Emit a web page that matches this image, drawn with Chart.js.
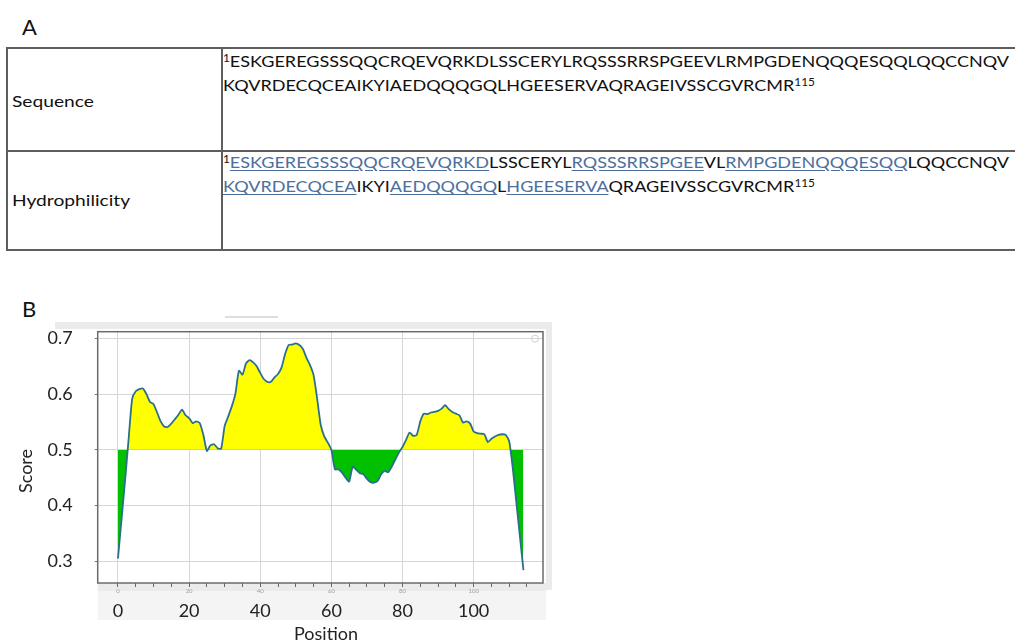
<!DOCTYPE html>
<html>
<head>
<meta charset="utf-8">
<title>Hydrophilicity profile</title>
<script src="https://cdn.jsdelivr.net/npm/chart.js@4.4.1/dist/chart.umd.min.js"></script>
<style>
  html, body { margin: 0; padding: 0; background: #fff; }
  body {
    width: 1015px; height: 642px; overflow: hidden; position: relative;
    font-family: Lato, 'Open Sans', sans-serif; color: #111;
  }
  .panel-label { position: absolute; font-size: 22px; line-height: 22px; color: #111; }
  .rule { position: absolute; background: #5e5e5e; }
  .row-name {
    position: absolute; left: 12px; font-size: 16px; line-height: 24px;
    transform: scaleX(1.2); transform-origin: 0 50%;
  }
  .seq { position: absolute; left: 223px; font-size: 16px; line-height: 24px; white-space: nowrap; transform-origin: 0 50%; }
  .hl { color: #4d6f9e; text-decoration: underline; text-underline-offset: 2px; }
  sup { font-size: 10.5px; line-height: 0; vertical-align: 5px; }
  #chartBox { position: absolute; left: 0; top: 290px; width: 560px; height: 352px; }
  .axis-title { position: absolute; color: #222; white-space: nowrap; transform: translate(-50%, -50%); }
  #tab { position: absolute; left: 225px; top: 316px; width: 53px; height: 2px; background: #dedede; }
</style>
</head>
<body>

<div class="panel-label" style="left: 22px; top: 16px;">A</div>

<div class="rule" style="left: 6px; top: 47px; width: 1009px; height: 2px;"></div>
<div class="rule" style="left: 6px; top: 149.5px; width: 1009px; height: 2px;"></div>
<div class="rule" style="left: 6px; top: 248.5px; width: 1009px; height: 2px;"></div>
<div class="rule" style="left: 6px; top: 47px; width: 2px; height: 203.5px;"></div>
<div class="rule" style="left: 221px; top: 47px; width: 2px; height: 203.5px;"></div>

<div class="row-name" style="top: 89px;">Sequence</div>
<div class="row-name" style="top: 188px;">Hydrophilicity</div>

<div class="seq" id="seqLine1" style="top: 49px;"></div>
<div class="seq" id="seqLine2" style="top: 72.5px;"></div>
<div class="seq" id="hydLine1" style="top: 149.5px;"></div>
<div class="seq" id="hydLine2" style="top: 174px;"></div>

<div class="panel-label" style="left: 22px; top: 298px;">B</div>
<div id="tab"></div>

<div id="chartBox"><canvas id="scoreChart"></canvas></div>

<div class="axis-title" style="left: 24.5px; top: 470.5px; font-size: 18px; transform: translate(-50%, -50%) rotate(-90deg);">Score</div>
<div class="axis-title" style="left: 326px; top: 633px; font-size: 18px;">Position</div>

<script>
const SEQUENCE = 'ESKGEREGSSSQQCRQEVQRKDLSSCERYLRQSSSRRSPGEEVLRMPGDENQQQESQQLQQCCNQV' +
  'KQVRDECQCEAIKYIAEDQQQGQLHGEESERVAQRAGEIVSSCGVRCMR';
const LINE_BREAK = 66;
// hydrophilic stretches, 1-based residue numbers, inclusive
const HYDROPHILIC_SEGMENTS = [[1, 22], [31, 42], [45, 58], [67, 77], [82, 89], [91, 99]];

const START_POSITION = 0;
const SCORES = [
  0.305, 0.375, 0.445, 0.520, 0.592, 0.605, 0.609, 0.610, 0.600, 0.586,
  0.582, 0.567, 0.551, 0.542, 0.541, 0.547, 0.555, 0.563, 0.572, 0.562,
  0.557, 0.548, 0.551, 0.548, 0.527, 0.498, 0.508, 0.510, 0.503, 0.502,
  0.543, 0.560, 0.578, 0.600, 0.642, 0.635, 0.655, 0.661, 0.657, 0.650,
  0.638, 0.627, 0.622, 0.622, 0.630, 0.636, 0.648, 0.672, 0.688, 0.689,
  0.691, 0.688, 0.681, 0.665, 0.652, 0.634, 0.592, 0.545, 0.524, 0.513,
  0.500, 0.465, 0.465, 0.459, 0.450, 0.443, 0.470, 0.464, 0.458, 0.456,
  0.448, 0.442, 0.441, 0.444, 0.456, 0.462, 0.460, 0.470, 0.483, 0.495,
  0.505, 0.518, 0.531, 0.525, 0.527, 0.551, 0.565, 0.564, 0.567, 0.568,
  0.570, 0.574, 0.580, 0.573, 0.568, 0.565, 0.562, 0.549, 0.551, 0.547,
  0.533, 0.530, 0.529, 0.528, 0.514, 0.520, 0.524, 0.527, 0.528, 0.527,
  0.515, 0.467, 0.406, 0.345, 0.284
];
const THRESHOLD = 0.5;

const X_TICKS = [0, 20, 40, 60, 80, 100];
const X_MINOR_TICKS = [0, 5, 10, 15, 20, 25, 30, 35, 40, 45, 50, 55, 60, 65, 70, 75, 80, 85, 90, 95, 100, 105, 110, 115];
const Y_TICKS = [0.3, 0.4, 0.5, 0.6, 0.7];
const X_MIN = -5.7;
const X_MAX = 119.5;
const Y_MIN = 0.261;
const Y_MAX = 0.712;

const LINE_COLOR = '#2b6f8e';
const ABOVE_COLOR = '#ffff00';
const BELOW_COLOR = '#00c000';
const GRID_COLOR = '#d6d6d6';

// ---- panel A ----

function inSegment(i) {
  return HYDROPHILIC_SEGMENTS.some(function (s) { return i >= s[0] && i <= s[1]; });
}

function residueHtml(from, to, marked) {
  let html = '';
  for (let i = from; i <= to; i++) {
    const on = marked && inSegment(i);
    const wasOn = marked && i > from && inSegment(i - 1);
    if (on && !wasOn) html += '<span class="hl">';
    if (!on && wasOn) html += '</span>';
    html += SEQUENCE[i - 1];
  }
  if (marked && inSegment(to)) html += '</span>';
  return html;
}

function buildSequenceRows() {
  const last = SEQUENCE.length;
  document.getElementById('seqLine1').innerHTML = '<sup>1</sup>' + residueHtml(1, LINE_BREAK, false);
  document.getElementById('seqLine2').innerHTML = residueHtml(LINE_BREAK + 1, last, false) + '<sup>' + last + '</sup>';
  document.getElementById('hydLine1').innerHTML = '<sup>1</sup>' + residueHtml(1, LINE_BREAK, true);
  document.getElementById('hydLine2').innerHTML = residueHtml(LINE_BREAK + 1, last, true) + '<sup>' + last + '</sup>';

  // the figure text is stretched sideways; stretch ours so the first line ends where it does there
  const line = document.getElementById('seqLine1');
  const natural = line.getBoundingClientRect().width;
  const stretch = (1009 - 223) / natural;
  document.querySelectorAll('.seq').forEach(function (el) {
    el.style.transform = 'scaleX(' + stretch + ')';
  });
}

buildSequenceRows();

// ---- panel B ----

Chart.defaults.font.family = "Lato, 'Open Sans', sans-serif";

const points = SCORES.map(function (score, i) {
  return { x: START_POSITION + i, y: score };
});

function fixedTicks(values) {
  return function (scale) {
    scale.ticks = values.map(function (v) { return { value: v }; });
  };
}

function fixedSize(prop, size) {
  return function (scale) { scale[prop] = size; };
}

const windowPlugin = {
  id: 'windowFrame',
  beforeDraw: function (chart) {
    const ctx = chart.ctx;
    const a = chart.chartArea;
    ctx.save();
    ctx.fillStyle = '#ebebeb';
    ctx.fillRect(55, 32, 497, 7);
    ctx.fillRect(a.right + 3, 32, 6, a.bottom - 32 + 7);
    ctx.fillRect(a.left, a.bottom, a.right - a.left + 3, 8);
    ctx.fillStyle = '#f4f4f4';
    ctx.fillRect(a.left, a.bottom + 8, a.right - a.left + 3, 29);
    ctx.restore();
  },
  afterDraw: function (chart) {
    const ctx = chart.ctx;
    const a = chart.chartArea;
    ctx.save();
    ctx.strokeStyle = '#6b6b6b';
    ctx.lineWidth = 1.5;
    ctx.strokeRect(a.left, a.top, a.right - a.left, a.bottom - a.top);
    ctx.strokeStyle = '#cfcfcf';
    ctx.lineWidth = 1;
    ctx.beginPath();
    ctx.arc(a.right - 8, a.top + 7, 3.5, 0, Math.PI * 2);
    ctx.stroke();
    ctx.restore();
  }
};

new Chart(document.getElementById('scoreChart'), {
  type: 'line',
  data: {
    datasets: [
      {
        data: points,
        borderColor: LINE_COLOR,
        borderWidth: 1.8,
        pointRadius: 0,
        tension: 0.2,
        fill: {
          target: { value: THRESHOLD },
          above: ABOVE_COLOR,
          below: BELOW_COLOR
        }
      }
    ]
  },
  options: {
    responsive: true,
    maintainAspectRatio: false,
    animation: false,
    events: [],
    layout: {
      padding: { top: 41.7, right: 17, left: 0, bottom: 0 }
    },
    plugins: {
      legend: { display: false },
      tooltip: { enabled: false }
    },
    scales: {
      x: {
        type: 'linear',
        position: 'bottom',
        weight: 1,
        min: X_MIN,
        max: X_MAX,
        afterBuildTicks: fixedTicks(X_TICKS),
        afterFit: fixedSize('height', 49),
        grid: { color: GRID_COLOR, drawTicks: false },
        border: { display: false },
        ticks: {
          autoSkip: false,
          maxRotation: 0,
          padding: 7,
          color: '#222',
          font: { size: 18 }
        }
      },
      xMinor: {
        type: 'linear',
        axis: 'x',
        position: 'bottom',
        weight: 0,
        min: X_MIN,
        max: X_MAX,
        afterBuildTicks: fixedTicks(X_MINOR_TICKS),
        afterFit: fixedSize('height', 10),
        grid: { drawOnChartArea: false, tickLength: 4, tickColor: '#666' },
        border: { display: false },
        ticks: {
          autoSkip: false,
          maxRotation: 0,
          padding: 0,
          color: '#a0a0a0',
          font: { size: 6 },
          callback: function (value) {
            return value % 20 === 0 ? value : '';
          }
        }
      },
      y: {
        type: 'linear',
        min: Y_MIN,
        max: Y_MAX,
        afterBuildTicks: fixedTicks(Y_TICKS),
        afterFit: fixedSize('width', 97.7),
        grid: { color: GRID_COLOR, tickLength: 3, tickColor: '#777' },
        border: { display: false },
        ticks: {
          padding: 22,
          color: '#222',
          font: { size: 18 },
          callback: function (value) {
            return value.toFixed(1);
          }
        }
      }
    }
  },
  plugins: [windowPlugin]
});
</script>
</body>
</html>
